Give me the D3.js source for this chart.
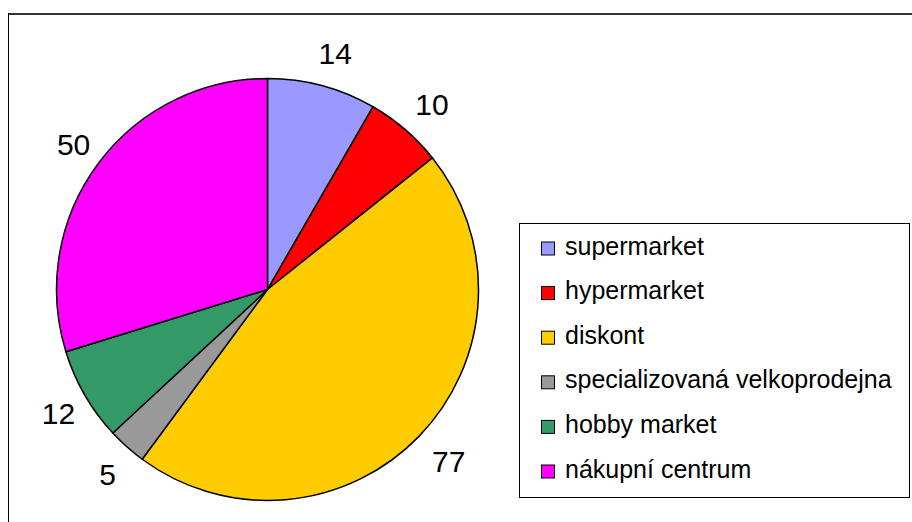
<!DOCTYPE html>
<html>
<head>
<meta charset="utf-8">
<script src="https://cdn.jsdelivr.net/npm/d3@7"></script>
<style>
  html, body { margin: 0; padding: 0; background: #fff; }
  svg { display: block; }
  text { font-family: "Liberation Sans", Arial, sans-serif; fill: #000; }
</style>
</head>
<body>
<div id="chart"></div>
<script>
const categories = ["supermarket", "hypermarket", "diskont", "specializovaná velkoprodejna", "hobby market", "nákupní centrum"];
const values = [14, 10, 77, 5, 12, 50];
const colors = ["#9999FF", "#FF0000", "#FFCC00", "#999999", "#339966", "#FF00FF"];

const W = 912, H = 522;
const svg = d3.select("#chart").append("svg").attr("width", W).attr("height", H);

// outer frame (extends beyond the visible area on the right/bottom)
svg.append("line").attr("x1", 8.5).attr("y1", 14).attr("x2", W).attr("y2", 14)
  .attr("stroke", "#333").attr("stroke-width", 2);
svg.append("line").attr("x1", 8.5).attr("y1", 13).attr("x2", 8.5).attr("y2", H)
  .attr("stroke", "#000").attr("stroke-width", 1);

const cx = 267.5, cy = 289.5, R = 211;
const data = categories.map((c, i) => ({ name: c, value: values[i], color: colors[i] }));
const pie = d3.pie().sort(null).value(d => d.value).startAngle(0).endAngle(2 * Math.PI);
const arcs = pie(data);
const arc = d3.arc().innerRadius(0).outerRadius(R);
const labelArc = d3.arc().innerRadius(R + 35).outerRadius(R + 35);

const g = svg.append("g").attr("transform", `translate(${cx},${cy})`);
g.selectAll("path").data(arcs).join("path")
  .attr("d", arc)
  .attr("fill", d => d.data.color)
  .attr("stroke", "#000")
  .attr("stroke-width", 1.5)
  .attr("stroke-linejoin", "round");

// data labels centred on a circle just outside the pie
g.selectAll("text.lbl").data(arcs).join("text")
  .attr("class", "lbl")
  .attr("font-size", 30)
  .attr("text-anchor", "middle")
  .attr("dy", "0.36em")
  .attr("transform", d => {
    const [x, y] = labelArc.centroid(d);
    return `translate(${x + 4},${y + 1})`;
  })
  .text(d => d.data.value);

// legend
const lg = svg.append("g");
lg.append("rect").attr("x", 519.5).attr("y", 223.5).attr("width", 390).attr("height", 274)
  .attr("fill", "#fff").attr("stroke", "#000").attr("stroke-width", 1);
const rowY = d3.scalePoint().domain(categories).range([242, 465]);
const items = lg.selectAll("g.item").data(data).join("g").attr("class", "item")
  .attr("transform", d => `translate(541.5,${rowY(d.name)})`);
items.append("rect").attr("width", 13).attr("height", 13)
  .attr("fill", d => d.color).attr("stroke", "#000").attr("stroke-width", 1);
items.append("text").attr("x", 23.5).attr("y", 12.5).attr("font-size", 25)
  .text(d => d.name);
</script>
</body>
</html>
